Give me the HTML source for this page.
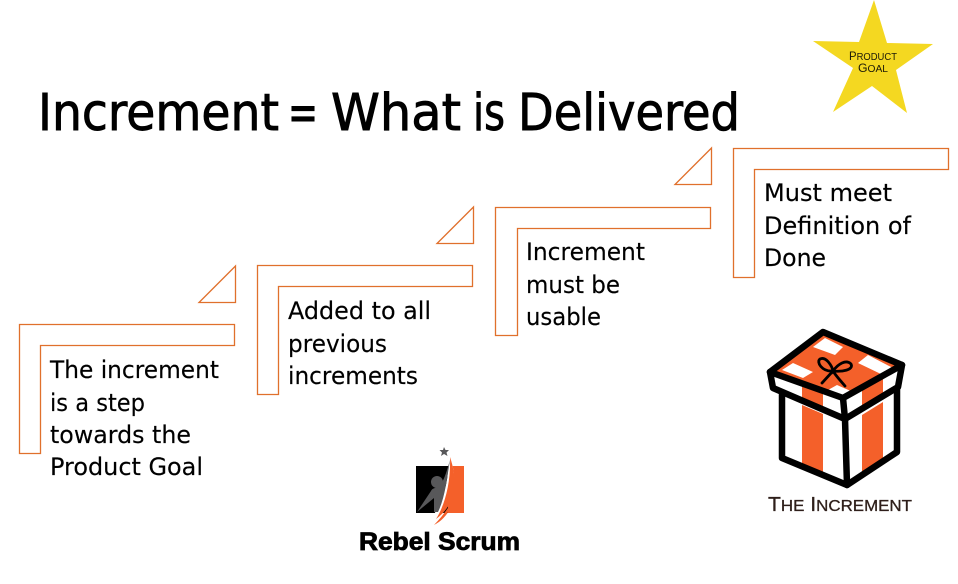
<!DOCTYPE html>
<html><head><meta charset="utf-8"><style>
html,body{margin:0;padding:0;background:#fff}
svg{display:block}
.t{font-family:"DejaVu Sans",sans-serif;font-size:24px;fill:#000;stroke:#000;stroke-width:.15}
.h{font-family:"DejaVu Sans",sans-serif;font-size:51px;fill:#000;stroke:#000;stroke-width:.9}
.s{fill:#fff;stroke:#e0702c;stroke-width:1.3}
.k{fill:none;stroke:#000;stroke-width:6.5;stroke-linejoin:round;stroke-linecap:round}
</style></head><body>
<svg width="958" height="584" viewBox="0 0 958 584" xmlns="http://www.w3.org/2000/svg">
<rect width="958" height="584" fill="#fff"/>
<polygon points="874,0 887,43 933,44 896,70 907,113 872,86 833,112 853,68 813,41 859,42" fill="#f4d821"/>
<text x="873" y="60" text-anchor="middle" font-family="Liberation Sans,sans-serif" font-size="12" fill="#1c1a08" textLength="48" lengthAdjust="spacingAndGlyphs">P<tspan font-size="10">RODUCT</tspan></text>
<text x="873" y="72" text-anchor="middle" font-family="Liberation Sans,sans-serif" font-size="12" fill="#1c1a08" textLength="30" lengthAdjust="spacingAndGlyphs">G<tspan font-size="10">OAL</tspan></text>
<text class="h" x="38" y="130" textLength="241" lengthAdjust="spacingAndGlyphs">Increment</text>
<text class="h" x="288" y="130" textLength="30" lengthAdjust="spacingAndGlyphs">=</text>
<text class="h" x="331" y="130" textLength="130" lengthAdjust="spacingAndGlyphs">What</text>
<text class="h" x="473" y="130" textLength="32" lengthAdjust="spacingAndGlyphs">is</text>
<text class="h" x="518" y="130" textLength="222" lengthAdjust="spacingAndGlyphs">Delivered</text>

<polygon class="s" points="733.5,148.5 948.5,148.5 948.5,169.5 754.5,169.5 754.5,277.5 733.5,277.5"/>
<polygon class="s" points="495.5,207.5 710.5,207.5 710.5,228.5 517.5,228.5 517.5,335.5 495.5,335.5"/>
<polygon class="s" points="257.5,265.5 472.5,265.5 472.5,286.5 278.5,286.5 278.5,394.5 257.5,394.5"/>
<polygon class="s" points="19.5,324.5 234.5,324.5 234.5,345.5 40.5,345.5 40.5,453.5 19.5,453.5"/>
<polygon class="s" points="199,302.5 235.5,302.5 235.5,266"/>
<polygon class="s" points="437,243.5 473.5,243.5 473.5,207"/>
<polygon class="s" points="675,184.5 711.5,184.5 711.5,148"/>

<text class="t" x="764" y="201" textLength="128" lengthAdjust="spacingAndGlyphs">Must meet</text>
<text class="t" x="764" y="234" textLength="147" lengthAdjust="spacingAndGlyphs">Definition of</text>
<text class="t" x="764" y="266" textLength="62" lengthAdjust="spacingAndGlyphs">Done</text>

<text class="t" x="526" y="260" textLength="119" lengthAdjust="spacingAndGlyphs">Increment</text>
<text class="t" x="526" y="293" textLength="94" lengthAdjust="spacingAndGlyphs">must be</text>
<text class="t" x="526" y="325" textLength="75" lengthAdjust="spacingAndGlyphs">usable</text>

<text class="t" x="288" y="319" textLength="143" lengthAdjust="spacingAndGlyphs">Added to all</text>
<text class="t" x="288" y="352" textLength="99" lengthAdjust="spacingAndGlyphs">previous</text>
<text class="t" x="288" y="384" textLength="130" lengthAdjust="spacingAndGlyphs">increments</text>

<text class="t" x="50" y="378" textLength="169" lengthAdjust="spacingAndGlyphs">The increment</text>
<text class="t" x="50" y="411" textLength="95" lengthAdjust="spacingAndGlyphs">is a step</text>
<text class="t" x="50" y="443" textLength="141" lengthAdjust="spacingAndGlyphs">towards the</text>
<text class="t" x="50" y="475" textLength="153" lengthAdjust="spacingAndGlyphs">Product Goal</text>

<!-- Rebel Scrum logo -->
<rect x="416" y="466" width="32" height="47" fill="#000"/>
<rect x="448" y="466" width="16" height="47" fill="#f4602a"/>
<path d="M449,458 C456,478 454,498 440,513 L430,522 C444,505 451,480 449,458Z" fill="#fff" stroke="#fff" stroke-width="2.500"/>
<path d="M450,457 C456,475 456,490 452,498 C449,507 443,514 436,519 C445,505 451,482 450,457Z" fill="#f4602a"/>
<path d="M454,499 C451,510 444,520 434,525 C442,517 448,508 454,499Z" fill="#f4602a"/>
<path d="M450,460 C447,478 445,498 438,512 L434,512 L434,498 L417,512 L431,491 C433,487 437,489 441,484 C445,478 447,470 450,460Z" fill="#58585a"/>
<circle cx="437" cy="482" r="6" fill="#58585a"/>
<polygon points="444,447 445.500,450 449,450 446.500,452.500 447.500,456 444,454 441,456 442,452.500 439.500,450 443,450" fill="#58585a"/>
<text x="359" y="550" font-family="Liberation Sans,sans-serif" font-weight="700" font-size="25" stroke="#000" stroke-width=".8" textLength="161" lengthAdjust="spacingAndGlyphs">Rebel Scrum</text>

<!-- Gift box -->
<polygon points="823,332 902,365 843,398 770,372" fill="#f4602a"/>
<polygon points="813,347 825,338 843,347 835,355" fill="#fff"/>
<polygon points="782,370 793,363 813,372 803,378" fill="#fff"/>
<polygon points="858,363 868,355 893,368 883,375" fill="#fff"/>
<polygon points="828,390 837,385 853,392 843,398" fill="#fff"/>
<polygon points="802,381 823,390 823,408 802,399" fill="#f4602a"/>
<polygon points="862,385 883,373 883,396 862,408" fill="#f4602a"/>
<polygon points="802,405 823,414 823,474 802,465" fill="#f4602a"/>
<polygon points="862,415 883,402 883,461 862,475" fill="#f4602a"/>
<g class="k">
<polygon points="823,332 902,365 843,398 770,372"/>
<path d="M770,372 L773,388 L845,419 L898,387 L902,365"/>
<path d="M843,398 L845,419"/>
<path d="M782,395 L782,458 L847,485 L897,452 L897,390"/>
<path d="M845,419 L847,485"/>
</g>
<g fill="none" stroke="#000" stroke-width="2.800" stroke-linecap="round">
<path d="M833,371 C822,372 816,362 820,359 C826,356 832,366 833,371 C838,364 846,359 851,364 C854,370 842,372 833,371"/>
<path d="M833,371 L822,383 M833,371 C836,376 840,380 845,386"/>
</g>
<text x="768" y="511" font-family="Liberation Sans,sans-serif" font-size="20" fill="#2e1f1a" stroke="#2e1f1a" stroke-width=".3" textLength="144" lengthAdjust="spacingAndGlyphs">T<tspan font-size="16">HE</tspan> I<tspan font-size="16">NCREMENT</tspan></text>
</svg>
</body></html>
